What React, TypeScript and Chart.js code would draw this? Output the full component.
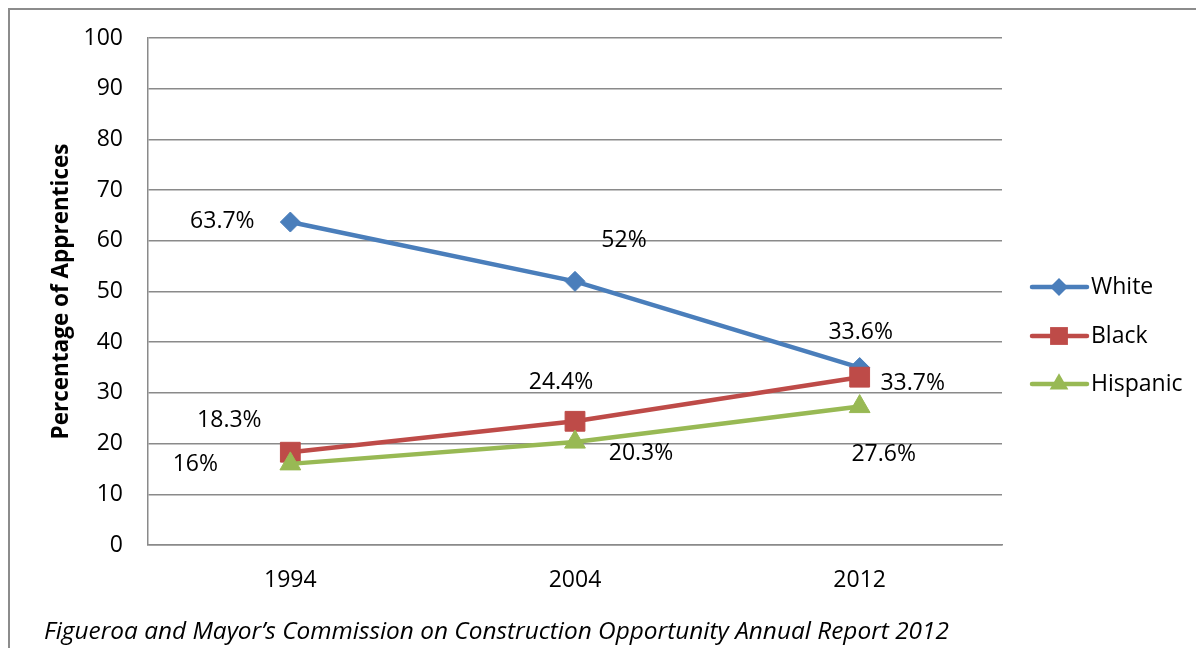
import React, { useEffect, useRef } from "react";
import { Chart, registerables } from "chart.js";

Chart.register(...registerables);

const categories = ["1994", "2004", "2012"];
const seriesNames = ["White", "Black", "Hispanic"];
const whiteValues = [63.7, 52, 35];
const blackValues = [18.3, 24.4, 33.1];
const hispanicValues = [16, 20.3, 27.3];
const whiteLabels = ["63.7%", "52%", "33.6%"];
const blackLabels = ["18.3%", "24.4%", "33.7%"];
const hispanicLabels = ["16%", "20.3%", "27.6%"];
const yTickValues = [0, 10, 20, 30, 40, 50, 60, 70, 80, 90, 100];
const yAxisTitle = "Percentage of Apprentices";
const caption = "Figueroa and Mayor\u2019s Commission on Construction Opportunity Annual Report 2012";

// styling
const COLORS = ["#4A7EBB", "#BE4B48", "#98B954"];
const MARKERS = ["rectRot", "rect", "triangle"];
const MARKER_R = [10, 14, 12];
const LABEL_OFFSETS = [
  [[-68, -1], [49, -41], [1, -35]],
  [[-61, -32], [-14, -39], [53, 6]],
  [[-95, 1], [66, 11], [24, 48]],
];
const FONT = "'Open Sans', 'Noto Sans', sans-serif";
const GRID = "#8a8a8a";

const seriesValues = [whiteValues, blackValues, hispanicValues];
const seriesLabels = [whiteLabels, blackLabels, hispanicLabels];

function drawMarker(ctx: CanvasRenderingContext2D, kind: string, r: number, x: number, y: number) {
  ctx.beginPath();
  if (kind === "rectRot") {
    ctx.moveTo(x, y - r);
    ctx.lineTo(x + r, y);
    ctx.lineTo(x, y + r);
    ctx.lineTo(x - r, y);
  } else if (kind === "rect") {
    const s = r * Math.SQRT1_2;
    ctx.rect(x - s, y - s, 2 * s, 2 * s);
  } else {
    ctx.moveTo(x, y - r);
    ctx.lineTo(x + r * 0.866, y + r * 0.5);
    ctx.lineTo(x - r * 0.866, y + r * 0.5);
  }
  ctx.closePath();
  ctx.fill();
}

const overlayPlugin = {
  id: "overlay",
  afterDatasetsDraw(chart: any) {
    const ctx = chart.ctx;
    const area = chart.chartArea;
    ctx.save();
    // data labels
    ctx.fillStyle = "#000";
    ctx.font = `23px ${FONT}`;
    ctx.textAlign = "center";
    ctx.textBaseline = "middle";
    chart.data.datasets.forEach((ds: any, di: number) => {
      const meta = chart.getDatasetMeta(di);
      meta.data.forEach((pt: any, i: number) => {
        const off = LABEL_OFFSETS[di][i];
        ctx.fillText(seriesLabels[di][i], pt.x + off[0], pt.y + off[1]);
      });
    });
    // y axis title
    ctx.save();
    ctx.translate(52, (area.top + area.bottom) / 2);
    ctx.rotate(-Math.PI / 2);
    ctx.font = `bold 22.5px ${FONT}`;
    ctx.fillText(yAxisTitle, 0, 0);
    ctx.restore();
    // legend
    const lx = area.right + 30;
    const ys = [277, 326, 374];
    seriesNames.forEach((name, i) => {
      const y = ys[i];
      ctx.strokeStyle = COLORS[i];
      ctx.lineWidth = 4.5;
      ctx.lineCap = "round";
      ctx.beginPath();
      ctx.moveTo(lx, y);
      ctx.lineTo(lx + 55, y);
      ctx.stroke();
      ctx.lineCap = "butt";
      ctx.fillStyle = COLORS[i];
      drawMarker(ctx, MARKERS[i], MARKER_R[i] * 0.9, lx + 27, y);
      ctx.fillStyle = "#000";
      ctx.textAlign = "left";
      ctx.font = `23px ${FONT}`;
      ctx.fillText(name, lx + 59, y);
    });
    // caption
    ctx.font = `italic 24.4px ${FONT}`;
    ctx.textAlign = "left";
    ctx.fillText(caption, 34, 622);
    ctx.restore();
  },
};

export default function App() {
  const ref = useRef<HTMLCanvasElement>(null);
  useEffect(() => {
    if (!ref.current) return;
    const chart = new Chart(ref.current, {
      type: "line",
      data: {
        labels: categories,
        datasets: seriesNames.map((name, i) => ({
          label: name,
          data: seriesValues[i],
          order: seriesNames.length - 1 - i,
          borderColor: COLORS[i],
          backgroundColor: COLORS[i],
          borderWidth: 4.5,
          pointStyle: MARKERS[i] as any,
          pointRadius: MARKER_R[i],
          pointBorderWidth: 1,
          pointBorderColor: COLORS[i],
          pointBackgroundColor: COLORS[i],
          tension: 0,
        })),
      },
      options: {
        animation: false,
        responsive: false,
        maintainAspectRatio: false,
        layout: { padding: { top: 28, right: 202, left: 0, bottom: 0 } },
        plugins: {
          legend: { display: false },
          tooltip: { enabled: false },
        },
        scales: {
          x: {
            type: "category",
            offset: true,
            grid: { display: false, drawTicks: false },
            border: { display: true, color: GRID, width: 1.5 },
            ticks: { color: "#000", font: { family: FONT, size: 23 }, padding: 22 },
            afterFit(scale: any) {
              scale.height = 103;
              scale.paddingLeft = 0;
              scale.paddingRight = 0;
            },
          },
          y: {
            min: 0,
            max: 100,
            afterBuildTicks(scale: any) {
              scale.ticks = yTickValues.map((v) => ({ value: v }));
            },
            grid: { color: GRID, lineWidth: 1.5, drawTicks: false },
            border: { display: true, color: GRID, width: 1.5 },
            ticks: { color: "#000", font: { family: FONT, size: 23 }, padding: 25 },
            afterFit(scale: any) {
              scale.width = 138;
              scale.paddingTop = 0;
              scale.paddingBottom = 0;
            },
          },
        },
      },
      plugins: [overlayPlugin],
    });
    return () => chart.destroy();
  }, []);
  return (
    <div
      style={{
        width: 1196,
        height: 640,
        boxSizing: "border-box",
        borderLeft: "2px solid #8c8c8c",
        borderTop: "2px solid #8c8c8c",
        overflow: "hidden",
      }}
    >
      <canvas ref={ref} width={1194} height={638} style={{ display: "block" }} />
    </div>
  );
}
